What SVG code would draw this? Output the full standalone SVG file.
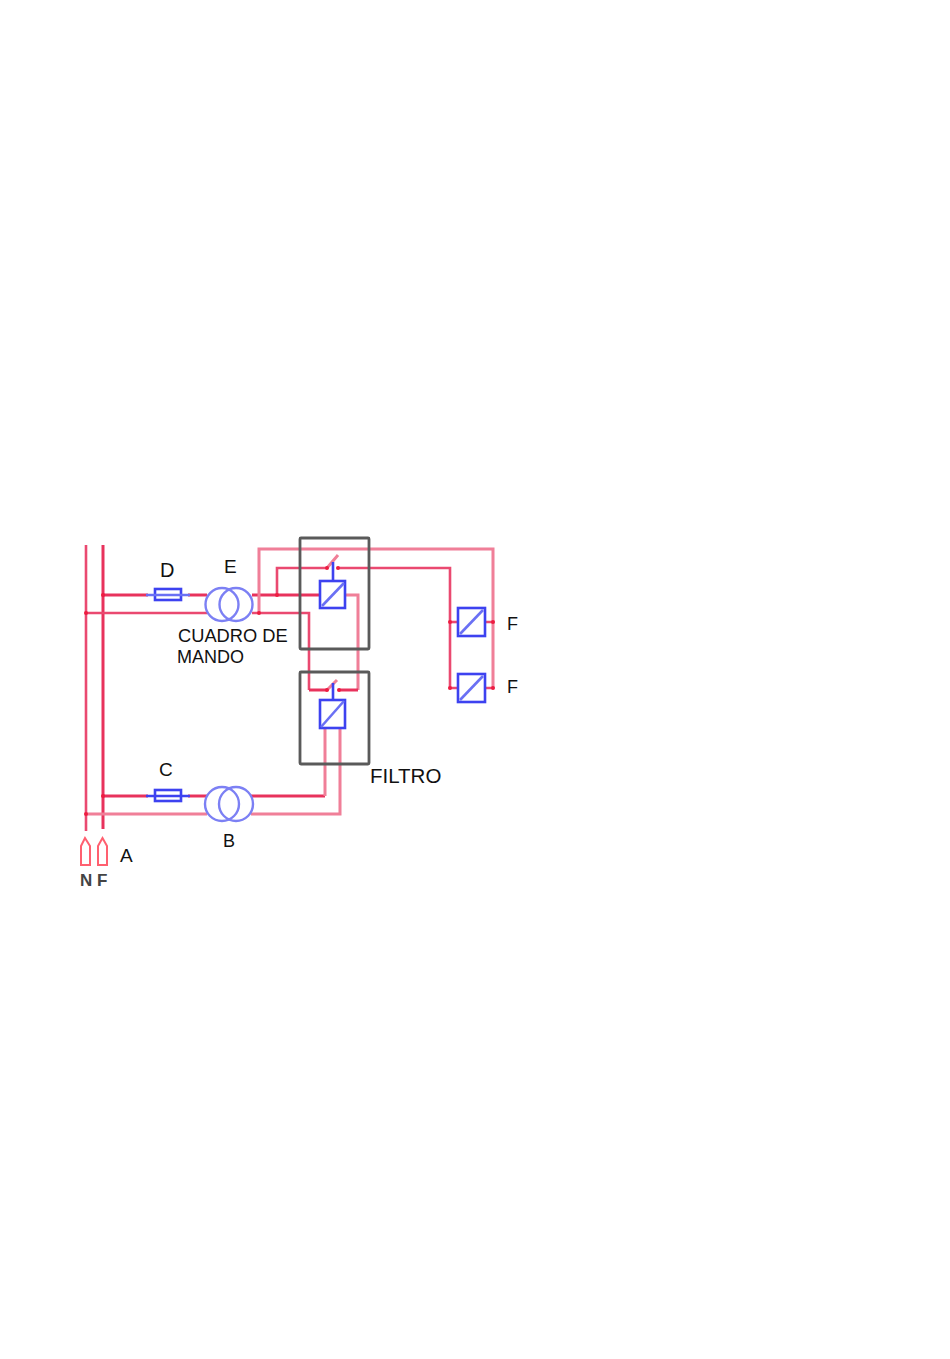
<svg xmlns="http://www.w3.org/2000/svg" width="950" height="1359" viewBox="0 0 950 1359">
<defs><filter id="soft" x="-5%" y="-5%" width="110%" height="110%"><feGaussianBlur stdDeviation="0.45"/></filter></defs>
<style>
text{font-family:"Liberation Sans",Arial,sans-serif;font-size:18px;fill:#111}
.w{fill:none;stroke:#ea4a70;stroke-width:2.6}
.l{fill:none;stroke:#f07f98;stroke-width:3}
.d{fill:none;stroke:#e8305c;stroke-width:3}
.dot{fill:#ee1c40}
.b{fill:none;stroke:#3c42f0;stroke-width:2.6}
.bl{fill:none;stroke:#6a70f4;stroke-width:2.6}
.bx{fill:none;stroke:#5a5a5a;stroke-width:2.8}
.t{fill:none;stroke:#7c80f4;stroke-width:2.4}
.c{fill:none;stroke:#ff6070;stroke-width:2}
</style>
<rect width="950" height="1359" fill="#fff"/>
<g filter="url(#soft)">
<g id="connectors">
<path class="w" d="M86 545V831"/>
<path class="d" d="M103 545V829"/>
<path class="d" d="M103 595H148"/>
<path class="w" d="M86 613H207"/>
<path class="d" d="M188 595H207"/>
<path class="d" d="M252 595H320"/>
<path class="w" d="M252 613H309V690"/>
<path class="d" d="M309 690H327"/>
<path class="l" d="M259 613V549H493V688"/>
<path class="w" d="M277 595V568H327"/>
<path class="w" d="M338 568H450V688H458"/>
<path class="w" d="M450 622H458"/>
<path class="w" d="M485 622H493M485 688H493"/>
<path class="l" d="M345 595H358V690"/>
<path class="d" d="M358 690H339"/>
<path class="d" d="M103 796H148"/>
<path class="d" d="M188 796H207"/>
<path class="l" d="M86 814H207"/>
<path class="d" d="M251 796H325"/>
<path class="l" d="M325 796V728"/>
<path class="l" d="M251 814H340V728"/>
<path class="l" d="M327 568L338 555M327 690L337 680"/>
<g class="dot">
<circle cx="103" cy="595" r="2"/><circle cx="86" cy="613" r="2"/><circle cx="259" cy="613" r="2"/><circle cx="277" cy="595" r="2"/>
<circle cx="103" cy="796" r="2"/><circle cx="86" cy="814" r="2"/><circle cx="450" cy="622" r="2"/><circle cx="450" cy="688" r="2"/>
<circle cx="493" cy="622" r="2"/><circle cx="493" cy="688" r="2"/><circle cx="327" cy="568" r="2"/><circle cx="338" cy="568" r="2"/>
<circle cx="327" cy="690" r="2"/><circle cx="339" cy="690" r="2"/>
</g>
</g>
<g id="cuadro-box"><rect class="bx" x="300" y="538" width="69" height="111" rx="1"/></g>
<g id="filtro-box"><rect class="bx" x="300" y="672" width="69" height="92" rx="1"/></g>
<g id="fuse-D"><rect class="b" x="155" y="589" width="26" height="11"/><path class="bl" d="M146 595H190"/></g>
<g id="fuse-C"><rect class="b" x="155" y="790" width="26" height="11"/><path class="b" d="M146 796H190"/></g>
<g id="transformer-E"><circle class="t" cx="222" cy="604.500" r="16.500"/><circle class="t" cx="236" cy="604.500" r="16.500"/></g>
<g id="transformer-B"><circle class="t" cx="222" cy="804" r="17"/><circle class="t" cx="236" cy="804" r="17"/></g>
<g id="relay-top"><rect class="b" x="320" y="581" width="25" height="27"/><path class="bl" d="M322 606L344 583"/><path class="b" d="M333 562V581"/></g>
<g id="relay-filtro"><rect class="b" x="320" y="700" width="25" height="28"/><path class="bl" d="M321 727L344 701"/><path class="b" d="M333 683V700"/></g>
<g id="relay-F1"><rect class="b" x="458" y="608" width="27" height="28"/><path class="bl" d="M460 634L483 610"/></g>
<g id="relay-F2"><rect class="b" x="458" y="674" width="27" height="28"/><path class="bl" d="M460 700L483 676"/></g>
<g id="fuse-N"><path class="c" d="M81 865V846L85 838L90 846V865Z"/></g>
<g id="fuse-F"><path class="c" d="M98 865V846L102.500 838L107 846V865Z"/></g>
</g>
<g id="labels">
<text x="160" y="577" style="font-size:20px">D</text>
<text x="224" y="573" style="font-size:19px">E</text>
<text x="178" y="642" style="font-size:18.300px">CUADRO DE</text>
<text x="177" y="663">MANDO</text>
<text x="507" y="630">F</text>
<text x="507" y="693">F</text>
<text x="370" y="783" style="font-size:20.500px">FILTRO</text>
<text x="159" y="776" style="font-size:19px">C</text>
<text x="223" y="847">B</text>
<text x="120" y="862" style="font-size:19px">A</text>
<text x="80" y="886" style="fill:#444;font-weight:bold;font-size:17px">N</text>
<text x="97" y="886" style="fill:#444;font-weight:bold;font-size:17px">F</text>
</g>
</svg>
